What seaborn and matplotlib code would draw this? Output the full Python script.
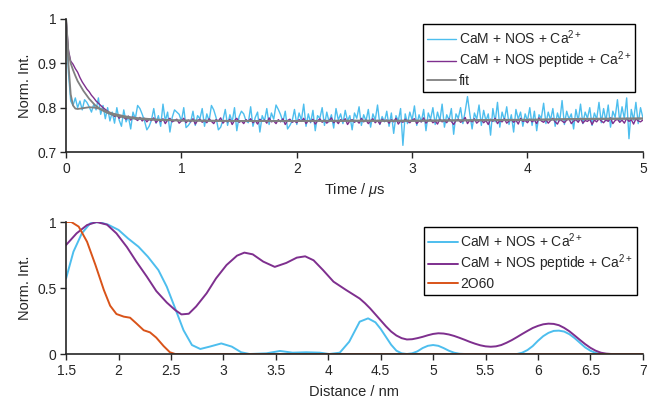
import numpy as np
import pandas as pd
import matplotlib
matplotlib.use("Agg")
import matplotlib.pyplot as plt
import seaborn as sns

# ---- 上图：时间衰减数据 (Time / us) ----
time_us = np.linspace(0, 5, 251)

cam_nos = [
    1.000, 0.880, 0.815, 0.805, 0.822, 0.800, 0.815, 0.795, 0.818, 0.812,
    0.802, 0.790, 0.808, 0.795, 0.822, 0.785, 0.805, 0.775, 0.800, 0.770,
    0.790, 0.765, 0.800, 0.772, 0.758, 0.795, 0.768, 0.780, 0.752, 0.790,
    0.775, 0.805, 0.798, 0.785, 0.770, 0.750, 0.758, 0.772, 0.798, 0.765,
    0.782, 0.758, 0.808, 0.770, 0.790, 0.745, 0.778, 0.795, 0.790, 0.785,
    0.770, 0.800, 0.755, 0.760, 0.768, 0.792, 0.760, 0.782, 0.775, 0.798,
    0.758, 0.786, 0.770, 0.805, 0.795, 0.778, 0.750, 0.756, 0.772, 0.796,
    0.760, 0.784, 0.768, 0.800, 0.748, 0.780, 0.792, 0.786, 0.770, 0.766,
    0.802, 0.758, 0.778, 0.790, 0.745, 0.782, 0.770, 0.798, 0.762, 0.788,
    0.774, 0.806, 0.796, 0.784, 0.768, 0.792, 0.752, 0.760, 0.770, 0.796,
    0.762, 0.788, 0.772, 0.808, 0.758, 0.786, 0.766, 0.794, 0.748, 0.782,
    0.776, 0.800, 0.760, 0.790, 0.768, 0.784, 0.754, 0.798, 0.772, 0.786,
    0.764, 0.794, 0.770, 0.782, 0.750, 0.788, 0.776, 0.802, 0.760, 0.784,
    0.770, 0.796, 0.756, 0.786, 0.772, 0.806, 0.762, 0.780, 0.768, 0.792,
    0.758, 0.788, 0.742, 0.782, 0.770, 0.798, 0.715, 0.786, 0.764, 0.790,
    0.772, 0.804, 0.760, 0.784, 0.768, 0.796, 0.748, 0.788, 0.774, 0.800,
    0.762, 0.790, 0.770, 0.808, 0.756, 0.784, 0.772, 0.798, 0.740, 0.786,
    0.776, 0.800, 0.764, 0.792, 0.825, 0.786, 0.752, 0.788, 0.774, 0.806,
    0.760, 0.794, 0.770, 0.786, 0.738, 0.798, 0.768, 0.812, 0.756, 0.790,
    0.772, 0.802, 0.762, 0.784, 0.745, 0.796, 0.774, 0.790, 0.758, 0.786,
    0.770, 0.800, 0.760, 0.792, 0.748, 0.784, 0.776, 0.810, 0.764, 0.790,
    0.772, 0.798, 0.758, 0.788, 0.770, 0.816, 0.762, 0.792, 0.774, 0.786,
    0.752, 0.796, 0.770, 0.808, 0.764, 0.790, 0.776, 0.800, 0.760, 0.788,
    0.774, 0.812, 0.766, 0.798, 0.770, 0.806, 0.756, 0.792, 0.778, 0.818,
    0.768, 0.802, 0.775, 0.822, 0.730, 0.796, 0.772, 0.812, 0.764, 0.800,
    0.778,
]

cam_peptide = [
    1.000, 0.930, 0.905, 0.898, 0.888, 0.880, 0.868, 0.858, 0.850, 0.842,
    0.836, 0.828, 0.822, 0.815, 0.810, 0.805, 0.800, 0.796, 0.792, 0.788,
    0.786, 0.780, 0.784, 0.776, 0.782, 0.778, 0.774, 0.781, 0.772, 0.779,
    0.775, 0.771, 0.778, 0.770, 0.776, 0.768, 0.774, 0.771, 0.777, 0.766,
    0.773, 0.769, 0.775, 0.764, 0.772, 0.776, 0.768, 0.771, 0.774, 0.765,
    0.770, 0.776, 0.766, 0.772, 0.768, 0.775, 0.763, 0.771, 0.774, 0.767,
    0.772, 0.766, 0.775, 0.769, 0.764, 0.773, 0.770, 0.777, 0.765, 0.771,
    0.768, 0.774, 0.762, 0.771, 0.776, 0.767, 0.770, 0.764, 0.773, 0.769,
    0.775, 0.766, 0.771, 0.763, 0.774, 0.769, 0.772, 0.765, 0.777, 0.768,
    0.770, 0.764, 0.773, 0.768, 0.775, 0.762, 0.771, 0.774, 0.767, 0.770,
    0.766, 0.773, 0.769, 0.776, 0.764, 0.771, 0.768, 0.774, 0.763, 0.770,
    0.775, 0.767, 0.772, 0.765, 0.770, 0.777, 0.766, 0.771, 0.764, 0.773,
    0.769, 0.775, 0.762, 0.770, 0.773, 0.767, 0.771, 0.765, 0.776, 0.768,
    0.772, 0.764, 0.770, 0.775, 0.766, 0.771, 0.763, 0.774, 0.769, 0.772,
    0.765, 0.773, 0.768, 0.776, 0.763, 0.770, 0.767, 0.774, 0.769, 0.766,
    0.772, 0.775, 0.764, 0.770, 0.768, 0.777, 0.765, 0.771, 0.773, 0.766,
    0.770, 0.763, 0.774, 0.768, 0.772, 0.766, 0.775, 0.769, 0.762, 0.771,
    0.774, 0.767, 0.770, 0.778, 0.764, 0.772, 0.768, 0.775, 0.765, 0.770,
    0.773, 0.766, 0.771, 0.762, 0.774, 0.769, 0.776, 0.764, 0.771, 0.768,
    0.775, 0.765, 0.770, 0.773, 0.767, 0.772, 0.763, 0.776, 0.769, 0.771,
    0.766, 0.774, 0.768, 0.772, 0.764, 0.777, 0.770, 0.767, 0.773, 0.765,
    0.771, 0.776, 0.768, 0.763, 0.774, 0.770, 0.766, 0.772, 0.775, 0.764,
    0.770, 0.773, 0.767, 0.776, 0.765, 0.771, 0.769, 0.774, 0.762, 0.772,
    0.768, 0.775, 0.770, 0.766, 0.773, 0.769, 0.777, 0.764, 0.771, 0.774,
    0.767, 0.772, 0.765, 0.776, 0.769, 0.773, 0.763, 0.775, 0.770, 0.768,
    0.772,
]

# 拟合曲线（两条，灰色）
fit_t = [0, 0.02, 0.04, 0.06, 0.08, 0.1, 0.15, 0.2, 0.25, 0.3, 0.35, 0.4,
         0.5, 0.6, 0.8, 1.0, 1.5, 2, 2.5, 3, 3.5, 4, 4.5, 5]
fit_nos = [1.0, 0.90, 0.83, 0.805, 0.798, 0.797, 0.799, 0.801, 0.800, 0.797,
           0.792, 0.787, 0.781, 0.777, 0.773, 0.771, 0.770, 0.770, 0.771,
           0.771, 0.772, 0.773, 0.775, 0.776]
fit_peptide = [1.0, 0.925, 0.900, 0.885, 0.872, 0.860, 0.838, 0.820, 0.806,
               0.796, 0.789, 0.784, 0.778, 0.775, 0.772, 0.771, 0.770, 0.770,
               0.770, 0.770, 0.771, 0.772, 0.774, 0.775]

# ---- 下图：距离分布 (Distance / nm) ----
d_nos = [1.5, 1.57, 1.65, 1.73, 1.81, 1.9, 2.0, 2.09, 2.19, 2.28, 2.38,
         2.46, 2.54, 2.62, 2.7, 2.78, 2.87, 2.98, 3.08, 3.17, 3.25, 3.41,
         3.54, 3.66, 3.79, 3.92, 4.01, 4.11, 4.2, 4.3, 4.38, 4.45, 4.5,
         4.55, 4.6, 4.65, 4.7, 4.75, 4.8, 4.85, 4.9, 4.95, 5.0, 5.05, 5.1,
         5.15, 5.2, 5.25, 5.3, 5.8, 5.85, 5.9, 5.95, 6.0, 6.05, 6.1, 6.15,
         6.2, 6.25, 6.3, 6.35, 6.4, 6.45, 6.5, 6.55, 6.6, 7.0]
p_nos = [0.573, 0.775, 0.914, 0.99, 1.0, 0.98, 0.94, 0.876, 0.813, 0.737,
         0.636, 0.51, 0.346, 0.18, 0.068, 0.038, 0.056, 0.08, 0.056, 0.013,
         0.0, 0.005, 0.023, 0.01, 0.013, 0.01, 0.0, 0.01, 0.093, 0.245,
         0.27, 0.24, 0.19, 0.13, 0.07, 0.025, 0.005, 0.0, 0.005, 0.02, 0.045,
         0.062, 0.068, 0.062, 0.045, 0.025, 0.01, 0.002, 0.0, 0.0, 0.01,
         0.03, 0.06, 0.10, 0.135, 0.16, 0.175, 0.177, 0.17, 0.15, 0.12,
         0.085, 0.05, 0.025, 0.008, 0.0, 0.0]

d_peptide = [1.5, 1.6, 1.7, 1.79, 1.89, 1.98, 2.08, 2.17, 2.27, 2.36, 2.46,
             2.54, 2.6, 2.67, 2.74, 2.84, 2.93, 3.03, 3.13, 3.2, 3.28, 3.38,
             3.49, 3.6, 3.7, 3.78, 3.86, 3.95, 4.05, 4.17, 4.3, 4.35, 4.4,
             4.45, 4.5, 4.55, 4.6, 4.65, 4.7, 4.75, 4.8, 4.85, 4.9, 4.95,
             5.0, 5.05, 5.1, 5.15, 5.2, 5.25, 5.3, 5.35, 5.4, 5.45, 5.5,
             5.55, 5.6, 5.65, 5.7, 5.75, 5.8, 5.85, 5.9, 5.95, 6.0, 6.05,
             6.1, 6.15, 6.2, 6.25, 6.3, 6.35, 6.4, 6.45, 6.5, 6.55, 6.6,
             6.65, 6.7, 7.0]
p_peptide = [0.826, 0.914, 0.977, 1.0, 0.98, 0.914, 0.81, 0.70, 0.586,
             0.477, 0.39, 0.333, 0.30, 0.305, 0.36, 0.46, 0.573, 0.674,
             0.745, 0.768, 0.755, 0.70, 0.66, 0.69, 0.73, 0.74, 0.71, 0.636,
             0.548, 0.485, 0.42, 0.385, 0.345, 0.30, 0.255, 0.21, 0.17,
             0.14, 0.12, 0.11, 0.112, 0.12, 0.13, 0.142, 0.152, 0.157, 0.155,
             0.148, 0.137, 0.123, 0.108, 0.092, 0.078, 0.066, 0.058, 0.055,
             0.058, 0.068, 0.085, 0.105, 0.128, 0.152, 0.175, 0.197, 0.213,
             0.225, 0.23, 0.228, 0.218, 0.198, 0.172, 0.14, 0.107, 0.075,
             0.047, 0.025, 0.01, 0.003, 0.0, 0.0]

d_2o60 = [1.5, 1.55, 1.62, 1.7, 1.78, 1.86, 1.92, 1.98, 2.05, 2.11, 2.17,
          2.24, 2.3, 2.36, 2.43, 2.49, 2.54, 7.0]
p_2o60 = [1.0, 1.0, 0.965, 0.85, 0.674, 0.485, 0.366, 0.303, 0.283, 0.275,
          0.232, 0.18, 0.164, 0.124, 0.06, 0.013, 0.0, 0.0]

c_cyan = "#4DBEEE"
c_purple = "#7E2F8E"
c_orange = "#D95319"
c_gray = "#808080"

lab_nos = r"CaM + NOS + Ca$^{2+}$"
lab_pep = r"CaM + NOS peptide + Ca$^{2+}$"

sns.set_style("ticks")
plt.rcParams['font.family'] = ['Liberation Sans', 'DejaVu Sans']
plt.rcParams['mathtext.fontset'] = 'custom'
plt.rcParams['mathtext.rm'] = 'Liberation Sans'
plt.rcParams['mathtext.it'] = 'Liberation Sans:italic'
plt.rcParams['lines.solid_joinstyle'] = 'round'

fig = plt.figure(figsize=(6.48, 4.0), dpi=100)
ax1 = fig.add_axes([0.102, 0.62, 0.890, 0.3325])
ax2 = fig.add_axes([0.102, 0.115, 0.890, 0.33])

# 上图
sns.lineplot(x=time_us, y=cam_nos, ax=ax1, color=c_cyan, lw=1.0,
             label=lab_nos, estimator=None, sort=False)
sns.lineplot(x=time_us, y=cam_peptide, ax=ax1, color=c_purple, lw=1.0,
             label=lab_pep, estimator=None, sort=False)
sns.lineplot(x=fit_t, y=fit_peptide, ax=ax1, color=c_gray, lw=1.3,
             label="fit", estimator=None, sort=False)
sns.lineplot(x=fit_t, y=fit_nos, ax=ax1, color=c_gray, lw=1.3,
             estimator=None, sort=False)
ax1.set_xlim(0, 5)
ax1.set_ylim(0.7, 1.0)
ax1.set_xticks([0, 1, 2, 3, 4, 5])
ax1.set_yticks([0.7, 0.8, 0.9, 1.0])
ax1.set_yticklabels(["0.7", "0.8", "0.9", "1"])
ax1.set_xlabel(r"Time / $\mu$s", fontsize=10.5, labelpad=4)
ax1.set_ylabel("Norm. Int.", fontsize=10.5, labelpad=4)

# 下图
sns.lineplot(x=d_nos, y=p_nos, ax=ax2, color=c_cyan, lw=1.4,
             label=lab_nos, estimator=None, sort=False)
sns.lineplot(x=d_peptide, y=p_peptide, ax=ax2, color=c_purple, lw=1.4,
             label=lab_pep, estimator=None, sort=False)
sns.lineplot(x=d_2o60, y=p_2o60, ax=ax2, color=c_orange, lw=1.4,
             label="2O60", estimator=None, sort=False)
ax2.set_xlim(1.5, 7)
ax2.set_ylim(0, 1)
ax2.set_xticks([1.5, 2, 2.5, 3, 3.5, 4, 4.5, 5, 5.5, 6, 6.5, 7])
ax2.set_xticklabels(["1.5", "2", "2.5", "3", "3.5", "4", "4.5", "5", "5.5",
                     "6", "6.5", "7"])
ax2.set_yticks([0, 0.5, 1])
ax2.set_yticklabels(["0", "0.5", "1"])
ax2.set_xlabel("Distance / nm", fontsize=10.5, labelpad=5)
ax2.set_ylabel("Norm. Int.", fontsize=10.5, labelpad=4)

for ax, anchor in [(ax1, (0.987, 0.96)), (ax2, (0.99, 0.96))]:
    sns.despine(ax=ax)
    for s in ["left", "bottom"]:
        ax.spines[s].set_color("#262626")
        ax.spines[s].set_linewidth(1.2)
    ax.tick_params(direction="out", length=4, width=1.0, labelsize=10,
                   colors="#262626", pad=3)
    leg = ax.legend(loc="upper right", bbox_to_anchor=anchor, fontsize=10,
                    frameon=True, fancybox=False, framealpha=1,
                    edgecolor="black", handlelength=2.1, handletextpad=0.2,
                    labelspacing=0.2, borderpad=0.3, borderaxespad=0)
    leg.get_frame().set_linewidth(1.0)

fig.savefig("out.png", dpi=100)
